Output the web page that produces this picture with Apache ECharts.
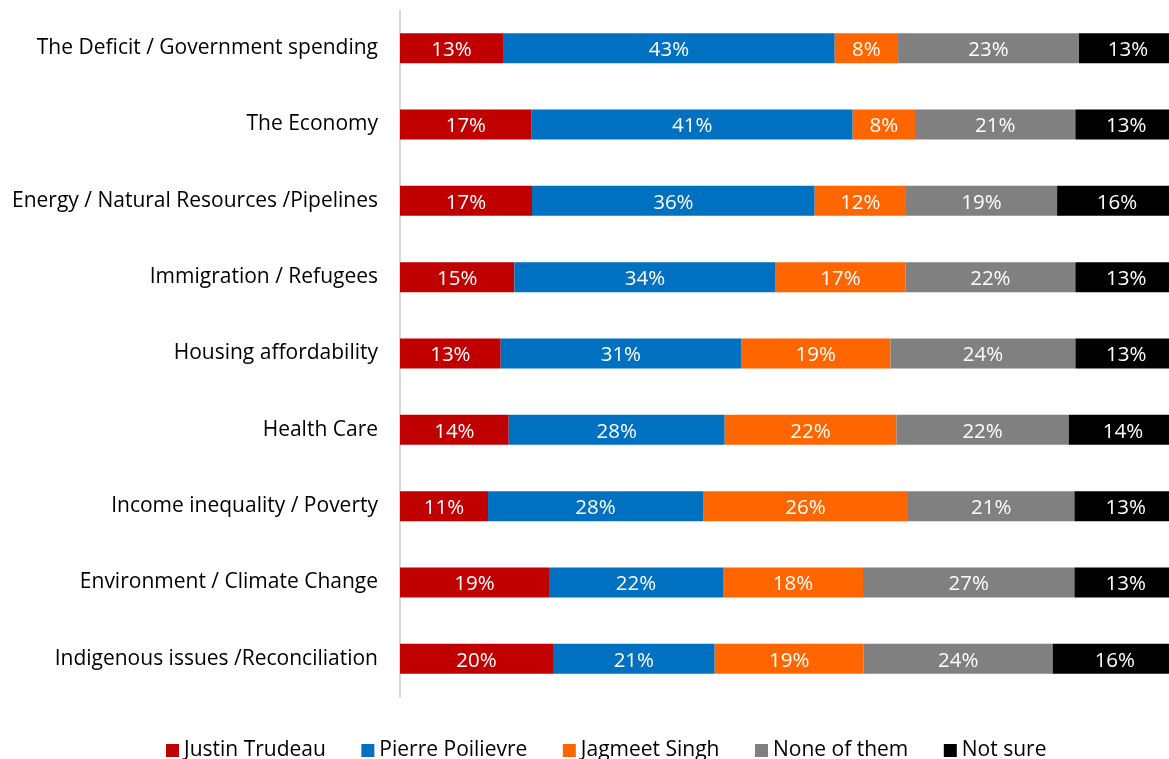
<!DOCTYPE html>
<html>
<head>
<meta charset="utf-8">
<script src="https://cdn.jsdelivr.net/npm/echarts@6/dist/echarts.min.js"></script>
<style>
html,body{margin:0;padding:0;background:#fff;}
#chart{width:1169px;height:759px;}
</style>
</head>
<body>
<div id="chart"></div>
<script>
const categories = [
  "The Deficit / Government spending",
  "The Economy",
  "Energy / Natural Resources /Pipelines",
  "Immigration / Refugees",
  "Housing affordability",
  "Health Care",
  "Income inequality / Poverty",
  "Environment / Climate Change",
  "Indigenous issues /Reconciliation"
];
const seriesNames = ["Justin Trudeau", "Pierre Poilievre", "Jagmeet Singh", "None of them", "Not sure"];
const trudeau   = [13.26, 16.95, 16.99, 14.72, 12.96, 13.99, 11.33, 19.18, 19.69];
const poilievre = [42.69, 41.31, 36.38, 33.63, 30.93, 27.80, 27.67, 22.39, 20.81];
const singh     = [8.15, 8.02, 11.75, 16.69, 19.23, 22.10, 26.38, 18.02, 19.18];
const noneOfThem= [23.29, 20.64, 19.45, 21.88, 23.81, 22.18, 21.42, 27.21, 24.32];
const notSure   = [12.61, 13.08, 16.00, 13.08, 13.07, 13.93, 13.20, 13.20, 16.00];
const colors = ["#C00000", "#0070C0", "#FF6600", "#808080", "#000000"];
const values = [trudeau, poilievre, singh, noneOfThem, notSure];

const FONT = "'Open Sans', 'Noto Sans', sans-serif";
const chart = echarts.init(document.getElementById('chart'), null, {renderer: 'canvas'});
chart.setOption({
  animation: false,
  backgroundColor: '#ffffff',
  textStyle: {fontFamily: FONT},
  grid: {left: 400, top: 10, width: 777, height: 687, containLabel: false, outerBoundsMode: 'none'},
  legend: {
    data: seriesNames,
    left: 161,
    top: 735,
    itemWidth: 13,
    itemHeight: 13,
    itemGap: 35.5,
    icon: 'rect',
    textStyle: {fontFamily: FONT, fontSize: 21, color: '#000'}
  },
  xAxis: {
    type: 'value', min: 0, max: 100, show: false
  },
  yAxis: {
    type: 'category',
    data: categories,
    inverse: true,
    axisLine: {show: true, lineStyle: {color: '#D9D9D9', width: 2}},
    axisTick: {show: false},
    axisLabel: {fontFamily: FONT, fontSize: 21, color: '#000', margin: 22, padding: [6, 0, 0, 0]}
  },
  series: seriesNames.map((name, i) => ({
    name: name,
    type: 'bar',
    stack: 'total',
    barWidth: 30,
    data: values[i],
    itemStyle: {color: colors[i]},
    label: {
      show: true,
      position: 'inside',
      color: '#fff',
      fontFamily: FONT,
      fontSize: 20.5,
      offset: [0, 2],
      formatter: p => Math.round(p.value) + '%'
    }
  }))
});
</script>
</body>
</html>
